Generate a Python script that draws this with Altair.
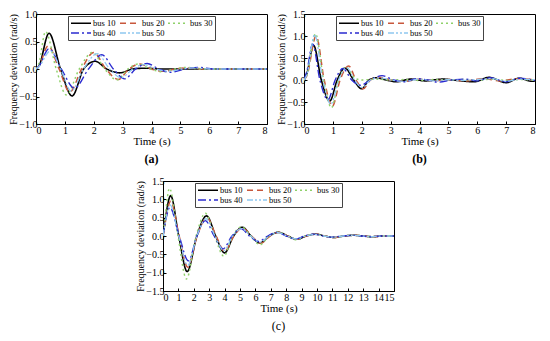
import altair as alt
import pandas as pd

BUSES = ["bus 10", "bus 20", "bus 30", "bus 40", "bus 50"]
COLORS = ["#000000", "#c8573c", "#8fd16a", "#2b2bd0", "#8fc8f0"]
DASHES = [[1, 0], [6, 4], [2, 3], [8, 3, 2, 3], [6, 2, 2, 2, 2, 2]]
WIDTHS = [1.6, 1.3, 1.5, 1.5, 1.3]

X8_TICKS = [0, 1, 2, 3, 4, 5, 6, 7, 8]
X15_TICKS = list(range(0, 16))
YA_TICKS = [-1.0, -0.5, 0.0, 0.5, 1.0]
YB_TICKS = [-1.0, -0.5, 0.0, 0.5, 1.0, 1.5]
YC_TICKS = [-1.5, -1.0, -0.5, 0.0, 0.5, 1.0, 1.5]

# ---- panel (a) ----
A_t10 = [0, 0.1, 0.45, 0.85, 1.25, 1.65, 2.05, 2.45, 2.9, 3.35, 3.8, 4.3, 5.0, 8.0]
A_v10 = [0, 0.05, 0.65, 0.0, -0.49, 0.0, 0.14, 0.0, -0.07, 0.0, 0.015, 0.0, 0.0, 0.0]
A_t20 = [0, 0.1, 0.42, 0.8, 1.17, 1.58, 2.0, 2.42, 2.85, 3.22, 3.6, 4.0, 4.4, 4.85, 5.3, 5.8, 8.0]
A_v20 = [0, 0.05, 0.42, 0.0, -0.42, 0.0, 0.3, 0.0, -0.19, 0.0, 0.09, 0.0, -0.04, 0.0, 0.02, 0.0, 0.0]
A_t30 = [0, 0.1, 0.33, 0.7, 1.05, 1.5, 1.95, 2.38, 2.8, 3.18, 3.55, 3.95, 4.4, 4.8, 5.2, 5.7, 8.0]
A_v30 = [0, 0.1, 0.68, 0.0, -0.47, 0.0, 0.3, 0.0, -0.2, 0.0, 0.09, 0.0, -0.05, 0.0, 0.03, 0.0, 0.0]
A_t40 = [0, 0.1, 0.45, 0.88, 1.33, 1.82, 2.28, 2.68, 3.07, 3.45, 3.85, 4.25, 4.65, 5.15, 5.65, 6.15, 8.0]
A_v40 = [0, 0.05, 0.37, 0.0, -0.35, 0.0, 0.26, 0.0, -0.18, 0.0, 0.1, 0.0, -0.06, 0.0, 0.03, 0.0, 0.0]
A_t50 = [0, 0.1, 0.5, 0.85, 1.22, 1.65, 2.12, 2.55, 2.95, 3.35, 3.75, 4.15, 4.6, 5.05, 5.5, 6.0, 8.0]
A_v50 = [0, 0.04, 0.33, 0.0, -0.4, 0.0, 0.28, 0.0, -0.16, 0.0, 0.08, 0.0, -0.04, 0.0, 0.02, 0.0, 0.0]

# ---- panel (b) ----
B_t10 = [0, 0.1, 0.33, 0.6, 0.89, 1.15, 1.42, 1.72, 2.0, 2.25, 2.5, 2.85, 3.2, 3.7, 4.2, 4.8, 5.3, 5.9, 6.4, 7.0, 7.45, 7.9, 8.0]
B_v10 = [0, 0.15, 0.79, 0.0, -0.48, 0.0, 0.27, 0.0, -0.2, 0.0, 0.05, 0.0, -0.04, 0.02, -0.02, 0.02, -0.01, -0.04, 0.06, -0.06, 0.04, -0.03, -0.02]
B_t20 = [0, 0.1, 0.42, 0.7, 0.98, 1.25, 1.55, 1.8, 2.05, 2.3, 2.6, 3.0, 3.5, 4.0, 4.5, 5.0, 5.6, 6.2, 6.8, 7.4, 8.0]
B_v20 = [0, 0.1, 1.0, 0.0, -0.6, 0.0, 0.32, 0.0, -0.2, 0.0, 0.06, 0.0, -0.03, 0.02, -0.02, 0.01, -0.02, 0.03, -0.02, 0.03, 0.0]
B_t30 = [0, 0.1, 0.4, 0.68, 0.95, 1.2, 1.45, 1.75, 2.0, 2.5, 3.0, 3.5, 4.0, 4.5, 5.0, 5.5, 6.0, 6.5, 7.0, 7.5, 8.0]
B_v30 = [0, 0.12, 1.05, 0.0, -0.63, 0.0, 0.3, 0.05, 0.0, 0.02, 0.0, 0.01, -0.01, 0.01, 0.0, 0.01, -0.01, 0.02, -0.01, 0.01, 0.0]
B_t40 = [0, 0.1, 0.3, 0.55, 0.83, 1.08, 1.35, 1.65, 1.95, 2.3, 2.7, 3.1, 3.5, 3.9, 4.3, 4.65, 5.1, 5.6, 6.0, 6.45, 7.0, 7.45, 8.0]
B_v40 = [0, 0.2, 0.82, 0.0, -0.45, 0.0, 0.26, 0.0, -0.12, 0.0, 0.1, 0.0, -0.04, 0.03, 0.0, -0.05, 0.0, 0.02, -0.02, 0.05, -0.04, 0.04, -0.01]
B_t50 = [0, 0.1, 0.37, 0.65, 0.93, 1.2, 1.48, 1.75, 2.02, 2.3, 2.6, 3.0, 3.5, 4.0, 4.5, 5.0, 5.5, 6.0, 6.5, 7.0, 7.5, 8.0]
B_v50 = [0, 0.12, 1.03, 0.0, -0.55, 0.0, 0.28, 0.0, -0.17, 0.0, 0.05, 0.0, -0.03, 0.02, -0.02, 0.01, -0.01, 0.01, 0.03, -0.03, 0.02, 0.0]

# ---- panel (c) ----
C_t10 = [0, 0.1, 0.5, 1.02, 1.57, 2.2, 2.83, 3.42, 4.0, 4.58, 5.15, 5.72, 6.3, 6.9, 7.5, 8.1, 8.7, 9.3, 9.9, 10.5, 11.1, 11.75, 12.4, 13.0, 13.6, 14.3, 15.0]
C_v10 = [0, 0.3, 1.1, 0.0, -0.97, 0.0, 0.55, 0.0, -0.46, 0.0, 0.24, 0.0, -0.19, 0.0, 0.1, 0.0, -0.09, 0.0, 0.05, 0.0, -0.04, 0.0, 0.02, 0.0, -0.02, 0.0, 0.0]
C_t20 = [0, 0.1, 0.5, 1.05, 1.6, 2.22, 2.85, 3.45, 4.0, 4.6, 5.15, 5.75, 6.35, 6.95, 7.5, 8.1, 8.7, 9.3, 9.9, 10.5, 11.1, 11.75, 12.4, 13.0, 13.6, 14.3, 15.0]
C_v20 = [0, 0.25, 0.95, 0.0, -0.85, 0.0, 0.5, 0.0, -0.42, 0.0, 0.22, 0.0, -0.2, 0.0, 0.1, 0.0, -0.09, 0.0, 0.05, 0.0, -0.04, 0.0, 0.02, 0.0, -0.02, 0.0, 0.0]
C_t30 = [0, 0.1, 0.42, 0.97, 1.52, 2.15, 2.75, 3.35, 3.95, 4.52, 5.1, 5.7, 6.3, 6.88, 7.45, 8.05, 8.65, 9.25, 9.85, 10.45, 11.05, 11.7, 12.35, 12.95, 13.55, 14.25, 15.0]
C_v30 = [0, 0.35, 1.3, 0.0, -1.17, 0.0, 0.62, 0.0, -0.55, 0.0, 0.25, 0.0, -0.24, 0.0, 0.11, 0.0, -0.1, 0.0, 0.05, 0.0, -0.04, 0.0, 0.02, 0.0, -0.02, 0.0, 0.0]
C_t40 = [0, 0.1, 0.45, 1.05, 1.65, 2.2, 2.75, 3.32, 3.9, 4.48, 5.05, 5.62, 6.2, 6.8, 7.4, 8.0, 8.6, 9.2, 9.8, 10.4, 11.0, 11.65, 12.3, 12.9, 13.5, 14.2, 15.0]
C_v40 = [0, 0.25, 0.78, 0.0, -0.68, 0.0, 0.42, 0.0, -0.35, 0.0, 0.2, 0.0, -0.15, 0.0, 0.1, 0.0, -0.08, 0.0, 0.05, 0.0, -0.03, 0.0, 0.02, 0.0, -0.02, 0.0, 0.0]
C_t50 = [0, 0.1, 0.45, 1.02, 1.6, 2.2, 2.8, 3.38, 3.95, 4.52, 5.1, 5.7, 6.3, 6.9, 7.45, 8.05, 8.65, 9.25, 9.85, 10.45, 11.05, 11.7, 12.35, 12.95, 13.55, 14.25, 15.0]
C_v50 = [0, 0.25, 0.85, 0.0, -0.8, 0.0, 0.47, 0.0, -0.4, 0.0, 0.2, 0.0, -0.17, 0.0, 0.09, 0.0, -0.08, 0.0, 0.04, 0.0, -0.03, 0.0, 0.02, 0.0, -0.02, 0.0, 0.0]


def frame(series):
    rows = []
    for bus, (ts, vs) in zip(BUSES, series):
        for t, v in zip(ts, vs):
            rows.append({"t": t, "v": v, "bus": bus})
    return pd.DataFrame(rows)


df_a = frame([(A_t10, A_v10), (A_t20, A_v20), (A_t30, A_v30), (A_t40, A_v40), (A_t50, A_v50)])
df_b = frame([(B_t10, B_v10), (B_t20, B_v20), (B_t30, B_v30), (B_t40, B_v40), (B_t50, B_v50)])
df_c = frame([(C_t10, C_v10), (C_t20, C_v20), (C_t30, C_v30), (C_t40, C_v40), (C_t50, C_v50)])

FONT = "Liberation Serif"
W, H = 231, 110


def legend():
    return alt.Legend(
        title=None, orient="none", legendX=32, legendY=2, direction="horizontal",
        columns=3, symbolType="M-1,0H4", symbolSize=64, symbolStrokeWidth=1.5,
        labelFont=FONT, labelFontSize=8.5, labelColor="black", columnPadding=0,
        rowPadding=0, padding=2, strokeColor="#444", fillColor="white",
        labelOffset=13, symbolOffset=0,
    )


def panel(df, xmax, xticks, ydom, yticks, caption, weight):
    return alt.Chart(df).mark_line(interpolate="monotone", clip=True).encode(
        x=alt.X("t:Q", scale=alt.Scale(domain=[0, xmax], nice=False),
                axis=alt.Axis(title="Time (s)", values=xticks, format="d")),
        y=alt.Y("v:Q", scale=alt.Scale(domain=ydom, nice=False),
                axis=alt.Axis(title="Frequency deviation (rad/s)", values=yticks, format=".1f")),
        color=alt.Color("bus:N", scale=alt.Scale(domain=BUSES, range=COLORS), legend=legend()),
        strokeDash=alt.StrokeDash("bus:N", scale=alt.Scale(domain=BUSES, range=DASHES), legend=legend()),
        strokeWidth=alt.StrokeWidth("bus:N", scale=alt.Scale(domain=BUSES, range=WIDTHS), legend=None),
    ).properties(
        width=W, height=H,
        title=alt.TitleParams(caption, orient="bottom", frame="group", anchor="middle",
                              font=FONT, fontSize=12, fontWeight=weight, offset=8),
    )


pa = panel(df_a, 8, X8_TICKS, [-1.0, 1.0], YA_TICKS, "(a)", "bold")
pb = panel(df_b, 8, X8_TICKS, [-1.0, 1.5], YB_TICKS, "(b)", "bold")
pc = panel(df_c, 15, X15_TICKS, [-1.5, 1.5], YC_TICKS, "(c)", "normal")

spacer = alt.Chart(pd.DataFrame({"z": [0]})).mark_point(opacity=0).properties(
    width=98, height=10, view=alt.ViewBackground(stroke="transparent"))

RES_S = dict(color="independent", strokeDash="independent", strokeWidth="independent")
RES_L = dict(color="independent", strokeDash="independent")

top = alt.hconcat(pa, pb, spacing=8).resolve_scale(**RES_S).resolve_legend(**RES_L)
bottom = alt.hconcat(spacer, pc, spacing=0).resolve_scale(**RES_S).resolve_legend(**RES_L)
chart = alt.vconcat(top, bottom, spacing=9).resolve_scale(**RES_S).resolve_legend(**RES_L)

chart = chart.properties(padding=0, background="white").configure_axis(
    labelFont=FONT, labelFontSize=10, labelColor="black",
    titleFont=FONT, titleFontSize=10, titleFontWeight="normal", titleColor="black",
    titlePadding=0, labelPadding=2, tickSize=alt.ExprRef("-3"), tickColor="black",
    domainColor="black", grid=False,
).configure_axisX(titleFontSize=11, titlePadding=0, labelPadding=4).configure_view(stroke="black", strokeWidth=1)

chart.save("out.html", embed_options={"renderer": "svg", "actions": False})
